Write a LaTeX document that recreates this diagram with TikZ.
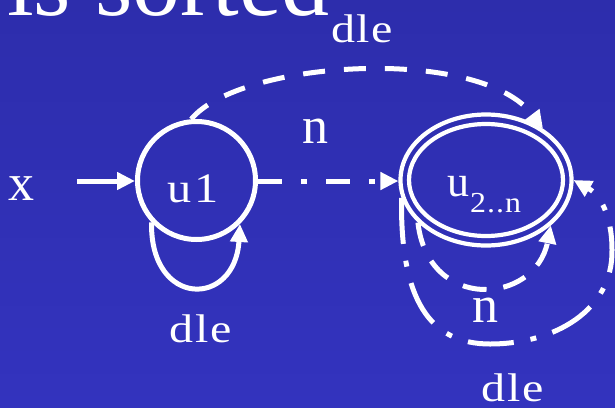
\documentclass[tikz,border=0pt]{standalone}
\usepackage{fontspec}
\setmainfont{Liberation Serif}
\usetikzlibrary{arrows.meta,shapes.geometric}
\newcommand\myfs[1]{\fontsize{#1}{#1}\selectfont}
\newcommand\wide[1]{\scalebox{1.2}[1]{#1}}
\definecolor{bgtop}{RGB}{45,45,172}
\definecolor{bgbot}{RGB}{51,51,190}
\tikzset{
  wl/.style={draw=white, line width=5pt},
  arr/.style={wl, -{Triangle[length=18pt,width=17pt]}},
  lbl/.style={text=white, inner sep=0pt, outer sep=0pt},
  dashdot/.style={dash pattern=on 24pt off 19pt on 6pt off 19pt},
  longdashdot/.style={dash pattern=on 46pt off 17pt on 6pt off 17pt},
  arcdash/.style={dash pattern=on 22pt off 19pt},
  loopdash/.style={dash pattern=on 24pt off 17pt},
  statecirc/.style={circle, draw=white, line width=5pt, minimum size=118pt, inner sep=0pt},
  stateell/.style={ellipse, draw=white, line width=4.2pt, minimum width=171pt, minimum height=131pt, inner sep=0pt},
}
\begin{document}
\begin{tikzpicture}[x=1pt,y=-1pt]
\useasboundingbox (0,0) rectangle (615,407);
\shade[top color=bgtop, bottom color=bgbot] (0,0) rectangle (615,407);
% title
\node[lbl, anchor=base west] (title) at (7,15) {\myfs{96}is sorted};
\node[lbl, anchor=base west] (titlesub) at (331,42) {\wide{\myfs{40}d\kern1.5pt l\kern1.5pt e}};
% states
\node[statecirc] (u1) at (196.5,180.5) {};
\node[lbl, anchor=base] (u1l) at (193,202) {\scalebox{1.15}[1]{\myfs{42}u\kern3pt 1}};
\node[stateell] (u2) at (486,180) {};
\draw[white, line width=4.2pt] (u2.center) ellipse [x radius=77, y radius=56];
\node[lbl, anchor=base west] (u2l) at (447,196) {\myfs{44}u\kern1pt\raisebox{-16pt}{\scalebox{1.1}[1]{\myfs{29}2\kern1pt.\kern1pt.\kern1pt n}}};
% start
\node[lbl, anchor=base] (xl) at (22,200) {\myfs{52}x};
\coordinate (xs) at (77,181);
\draw[arr] (xs) -- (u1.west |- xs);
% u1 -> u2
\draw[arr, dashdot] (u1.east |- 0,181) -- (u2.west |- 0,181);
\node[lbl, anchor=base] (nl) at (315.5,143) {\myfs{52}n};
% self loop u1
\draw[arr] (u1.223) .. controls (150,308) and (235,308) .. (u1.-45);
\node[lbl, anchor=base] (dle1) at (201,342) {\wide{\myfs{40}d\kern1.5pt l\kern1.5pt e}};
% top arc
\draw[arr, arcdash] (u1.95) .. controls (240,60) and (480,45) .. (u2.42);
% inner loop u2
\draw[arr, loopdash] (u2.212) .. controls (428,312) and (535,305) .. (u2.-35);
\node[lbl, anchor=base] (n2) at (485,322) {\myfs{52}n};
% outer loop u2
\draw[arr, longdashdot] (u2.192) .. controls (400,300) and (430,344) .. (490,344)
   .. controls (555,344) and (613,310) .. (612,250)
   .. controls (612,215) and (600,195) .. (u2.east);
\node[lbl, anchor=base] (dle2) at (512.5,401) {\wide{\myfs{40}d\kern1.5pt l\kern1.5pt e}};
\end{tikzpicture}
\end{document}
